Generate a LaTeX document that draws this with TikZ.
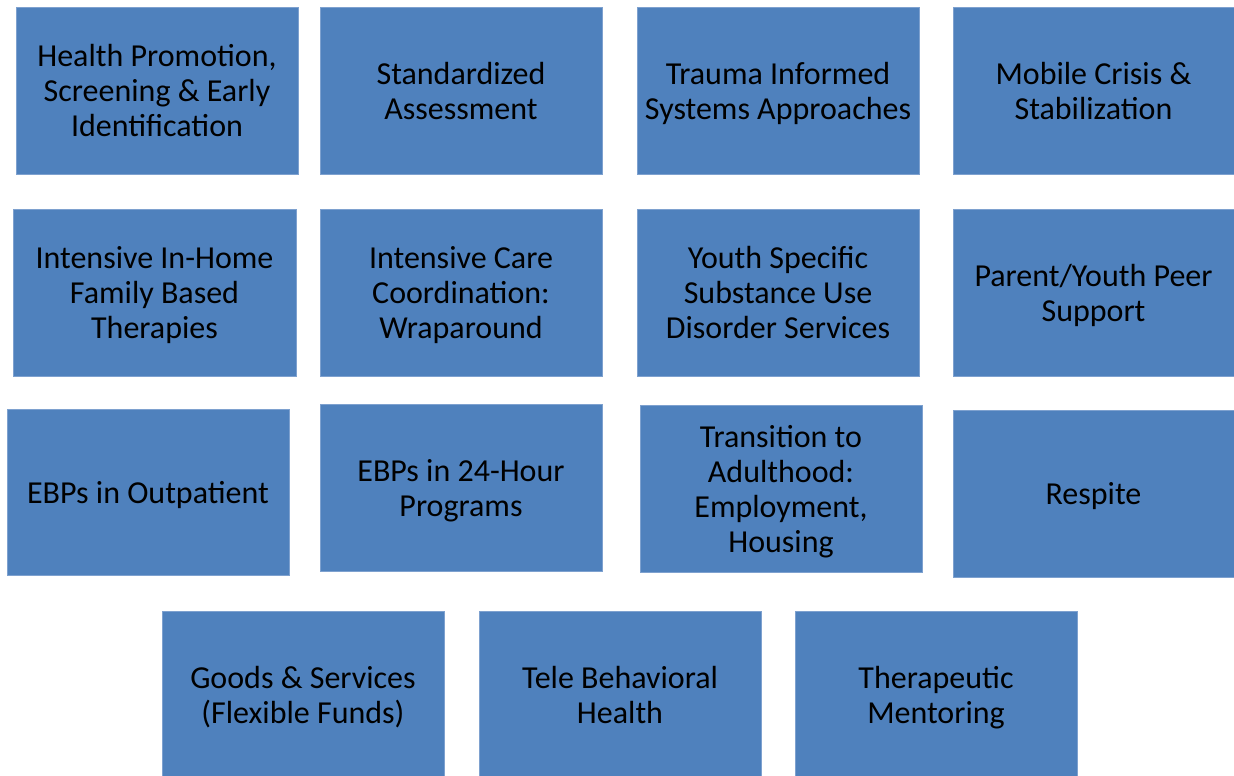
\documentclass[tikz,border=0pt]{standalone}
\usepackage{fontspec}
\setmainfont{Carlito}
\definecolor{boxblue}{HTML}{4F81BD}
\definecolor{boxedge}{HTML}{7EA1CF}
\begin{document}
\begin{tikzpicture}[x=1pt,y=-1pt,
  svc/.style={fill=boxblue,draw=boxedge,line width=0.8pt},
  svctext/.style={align=center,font=\fontsize{32}{35}\selectfont,text=black,inner sep=0pt}]
\useasboundingbox (0,0) rectangle (1234,776);
\newcommand{\svcbox}[6]{%
  \path[svc] (#2,#3) rectangle (#4,#5);
  \node[svctext] (#1) at ({(#2+#4)/2},{(#3+#5)/2+4}) {\strut#6\strut};}
\svcbox{b1}{16}{7}{298}{174}{Health Promotion,\\Screening \& Early\\Identification}
\svcbox{b2}{320}{7}{602}{174}{Standardized\\Assessment}
\svcbox{b3}{637}{7}{919}{174}{Trauma Informed\\Systems Approaches}
\svcbox{b4}{953}{7}{1234}{174}{Mobile Crisis \&\\Stabilization}
\svcbox{b5}{13}{209}{296}{376}{Intensive In-Home\\Family Based\\Therapies}
\svcbox{b6}{320}{209}{602}{376}{Intensive Care\\Coordination:\\Wraparound}
\svcbox{b7}{637}{209}{919}{376}{Youth Specific\\Substance Use\\Disorder Services}
\svcbox{b8}{953}{209}{1234}{376}{Parent/Youth Peer\\Support}
\svcbox{b9}{7}{409}{289}{575}{EBPs in Outpatient}
\svcbox{b10}{320}{404}{602}{571}{EBPs in 24-Hour\\Programs}
\svcbox{b11}{640}{405}{922}{572}{Transition to\\Adulthood:\\Employment,\\Housing}
\svcbox{b12}{953}{410}{1234}{577}{Respite}
\svcbox{b13}{162}{611}{444}{778}{Goods \& Services\\(Flexible Funds)}
\svcbox{b14}{479}{611}{761}{778}{Tele Behavioral\\Health}
\svcbox{b15}{795}{611}{1077}{778}{Therapeutic\\Mentoring}
\end{tikzpicture}
\end{document}
